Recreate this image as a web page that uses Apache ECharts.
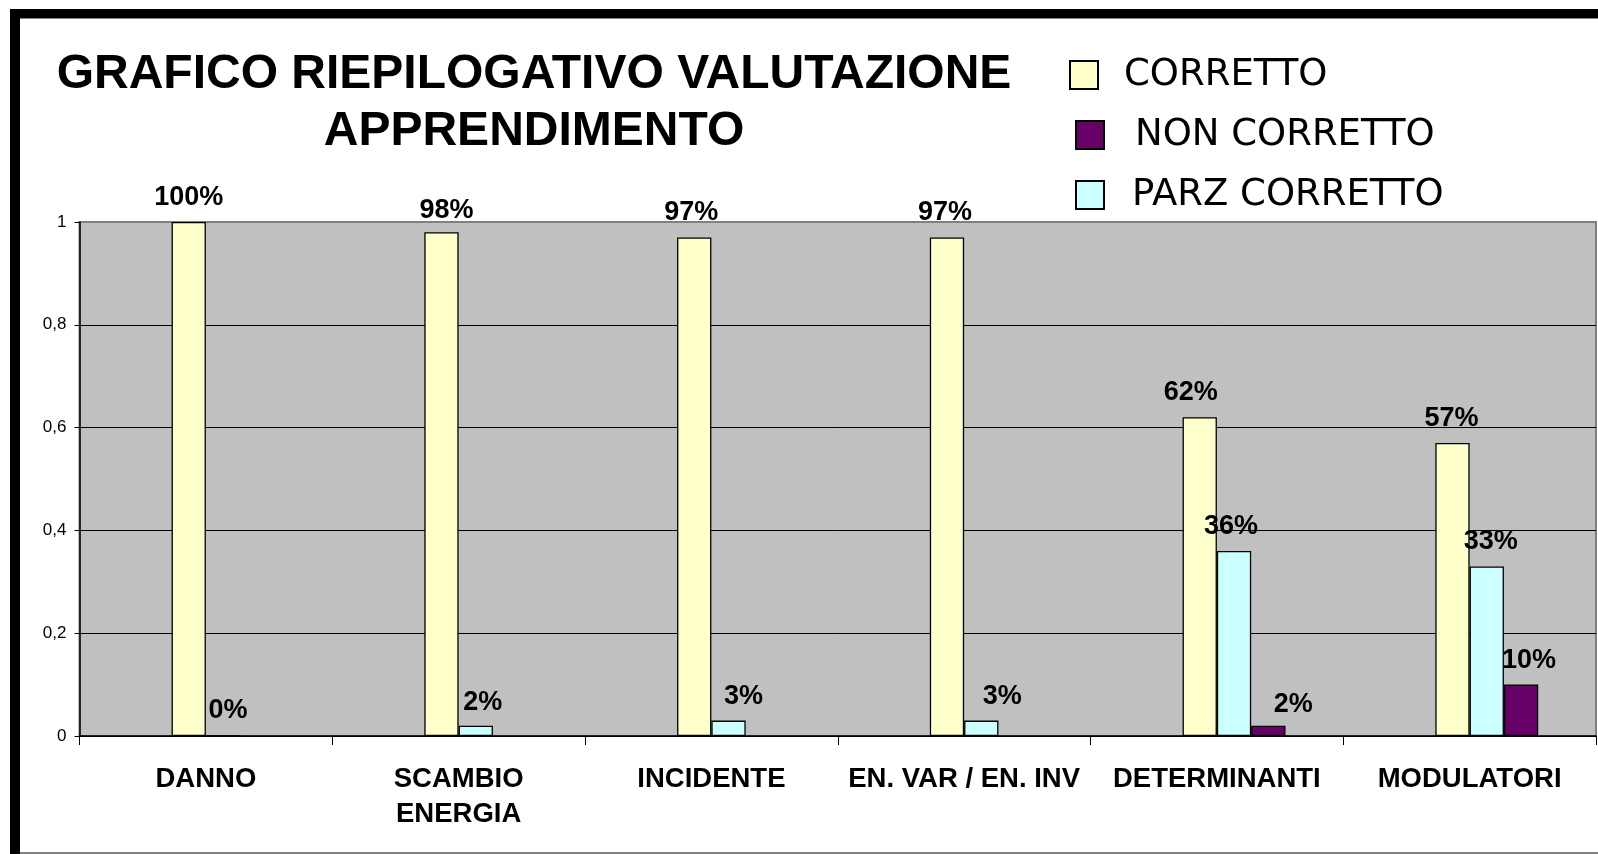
<!DOCTYPE html>
<html>
<head>
<meta charset="utf-8">
<title>Grafico riepilogativo valutazione apprendimento</title>
<script src="https://cdn.jsdelivr.net/npm/echarts@6/dist/echarts.min.js"></script>
<style>
  html, body { margin: 0; padding: 0; background: #fff; }
  #chart { width: 1598px; height: 854px; }
</style>
</head>
<body>
<div id="chart"></div>
<script>
// categorie (asse x)
const categories = ['DANNO', 'SCAMBIO\nENERGIA', 'INCIDENTE', 'EN. VAR / EN. INV', 'DETERMINANTI', 'MODULATORI']

// valori delle serie (frazioni di 1)
const corretto = [1, 0.98, 0.97, 0.97, 0.62, 0.57]
const parzCorretto = [0, 0.02, 0.03, 0.03, 0.36, 0.33]
const nonCorretto = [null, null, null, null, 0.02, 0.10]

// tacche asse y
const yTicks = { min: 0, max: 1, interval: 0.2 }

const legendNames = ['CORRETTO', 'NON CORRETTO', 'PARZ CORRETTO']

// spostamenti delle etichette (px), come posizionate a mano nell'originale
const shiftCorretto = [[0, 0], [5, 3], [-3, 0], [-2, 0], [-9, 0], [-1, 0]]
const shiftParz = [[5, 0], [7, 1], [15, 0], [21, 0], [-3, 0], [4, 0]]
const shiftNon = [[0, 0], [0, 0], [0, 0], [0, 0], [25, 3], [8, 0]]

const chart = echarts.init(document.getElementById('chart'))

const labelStyle = {
  show: true,
  position: 'top',
  distance: 11,
  fontFamily: 'Liberation Sans, Arial',
  fontWeight: 'bold',
  fontSize: 27,
  lineHeight: 27,
  color: '#000',
  formatter: (p) => Math.round(p.value * 100) + '%',
}

function barSeries(name, data, shifts, color) {
  return {
    name: name,
    type: 'bar',
    data: data.map((v, i) => ({ value: v, label: { offset: shifts[i] } })),
    barWidth: 34.3,
    barGap: '0%',
    itemStyle: { color: color, borderColor: '#000', borderWidth: 1.3 },
    label: labelStyle,
  }
}

// una voce di legenda per riga, come nell'originale (leggermente sfalsate)
function legendItem(name, left, top, textPad) {
  return {
    data: [name],
    left: left,
    top: top,
    padding: 0,
    itemWidth: 28,
    itemHeight: 28,
    icon: 'rect',
    itemStyle: { borderColor: '#000', borderWidth: 2 },
    textStyle: {
      fontFamily: 'DejaVu Sans',
      fontSize: 37,
      lineHeight: 40,
      color: '#000',
      padding: [0, 0, 0, textPad],
    },
  }
}

const option = {
  animation: false,
  graphic: [
    // cornice
    { type: 'rect', shape: { x: 10, y: 9, width: 1588, height: 9 }, style: { fill: '#000' } },
    { type: 'rect', shape: { x: 20, y: 18, width: 1578, height: 1 }, style: { fill: '#808080' } },
    { type: 'rect', shape: { x: 10, y: 9, width: 10, height: 845 }, style: { fill: '#000' } },
    { type: 'rect', shape: { x: 20, y: 852, width: 1578, height: 2 }, style: { fill: '#808080' } },
    // titolo
    {
      type: 'text',
      x: 534,
      y: 46,
      style: {
        text: 'GRAFICO RIEPILOGATIVO VALUTAZIONE\nAPPRENDIMENTO',
        fontFamily: 'Liberation Sans, Arial',
        fontWeight: 'bold',
        fontSize: 48,
        lineHeight: 57,
        fill: '#000',
        align: 'center',
        verticalAlign: 'top',
      },
    },
  ],
  legend: [
    legendItem(legendNames[0], 1069, 55, 21),
    legendItem(legendNames[1], 1075, 115, 26),
    legendItem(legendNames[2], 1075, 175, 23),
  ],
  grid: {
    left: 79.5,
    right: 2,
    top: 222,
    bottom: 118,
    show: true,
    backgroundColor: '#C0C0C0',
    borderColor: '#808080',
    borderWidth: 2,
    containLabel: false,
  },
  xAxis: {
    type: 'category',
    data: categories,
    axisLine: { show: true, lineStyle: { color: '#000', width: 1.5 } },
    axisTick: { show: true, interval: 0, length: 9, lineStyle: { color: '#000', width: 1 } },
    axisLabel: {
      interval: 0,
      margin: 26,
      fontFamily: 'Liberation Sans, Arial',
      fontWeight: 'bold',
      fontSize: 27.5,
      lineHeight: 35,
      color: '#000',
    },
    splitLine: { show: false },
  },
  yAxis: {
    type: 'value',
    min: yTicks.min,
    max: yTicks.max,
    interval: yTicks.interval,
    axisLine: { show: true, lineStyle: { color: '#000', width: 1.5 } },
    axisTick: { show: true, length: 5, lineStyle: { color: '#000' } },
    axisLabel: {
      margin: 13,
      fontFamily: 'Liberation Sans, Arial',
      fontSize: 17,
      color: '#000',
      formatter: (v) => String(v).replace('.', ','),
    },
    splitLine: { show: true, showMaxLine: false, lineStyle: { color: '#000', width: 1 } },
  },
  series: [
    // serie vuota: tiene il posto a sinistra come nel grafico originale
    { name: '', type: 'bar', data: categories.map(() => null), barWidth: 34.3, barGap: '0%' },
    barSeries('CORRETTO', corretto, shiftCorretto, '#FFFFCC'),
    barSeries('PARZ CORRETTO', parzCorretto, shiftParz, '#CCFFFF'),
    barSeries('NON CORRETTO', nonCorretto, shiftNon, '#660066'),
  ],
}

chart.setOption(option)
</script>
</body>
</html>
